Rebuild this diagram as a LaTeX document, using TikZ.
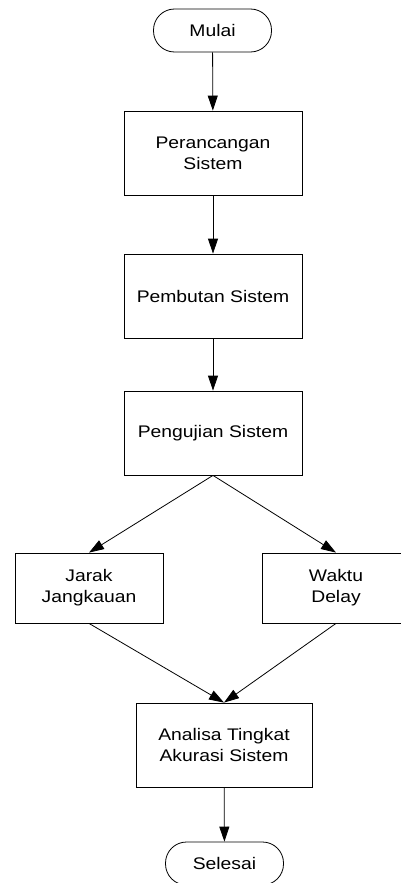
\documentclass[tikz,border=0pt]{standalone}
\usepackage{fontspec}
\setmainfont[FakeStretch=1.15]{Liberation Sans}
\usetikzlibrary{arrows.meta}

\begin{document}
\begin{tikzpicture}[x=1pt,y=-1pt,
    font=\fontsize{16.8}{21}\selectfont,
    kasten/.style={draw, line width=0.8pt, align=center, inner sep=0pt},
    terminal/.style={draw, line width=0.8pt, rounded corners=21pt, minimum width=118pt, minimum height=43pt, inner sep=0pt},
    pfeil/.style={line width=0.8pt, -{Triangle[length=15pt,width=10pt]}}]
    \useasboundingbox (0,0) rectangle (401,883);
    % Anfang:
    \node[terminal] (mulai) at (212.5,30.5) {Mulai};
    % mittlere Kaesten:
    \node[kasten, minimum width=178pt, minimum height=84pt] (rancang) at (213,153) {Perancangan\\Sistem};
    \node[kasten, minimum width=178pt, minimum height=84pt] (buat) at (213,296) {Pembutan Sistem};
    \node[kasten, minimum width=178pt, minimum height=84pt] (uji) at (213,433) {Pengujian Sistem};
    \node[kasten, minimum width=148pt, minimum height=70pt] (jarak) at (89,588) {Jarak\\Jangkauan};
    \node[kasten, minimum width=148pt, minimum height=70pt] (waktu) at (336,588) {Waktu\\Delay};
    \node[kasten, minimum width=176pt, minimum height=84pt] (analisa) at (224,745) {Analisa Tingkat\\Akurasi Sistem};
    % Ende:
    \node[terminal] (selesai) at (224.5,863.5) {Selesai};
\draw[pfeil] (mulai) -- (rancang);
\draw[pfeil] (rancang) -- (buat);
\draw[pfeil] (buat) -- (uji);
\draw[pfeil] (uji.south) -- (jarak.north);
\draw[pfeil] (uji.south) -- (waktu.north);
\draw[pfeil] (jarak.south) -- (analisa.north);
\draw[pfeil] (waktu.south) -- (analisa.north);
\draw[pfeil] (analisa) -- (selesai);
\end{tikzpicture}
\end{document}
